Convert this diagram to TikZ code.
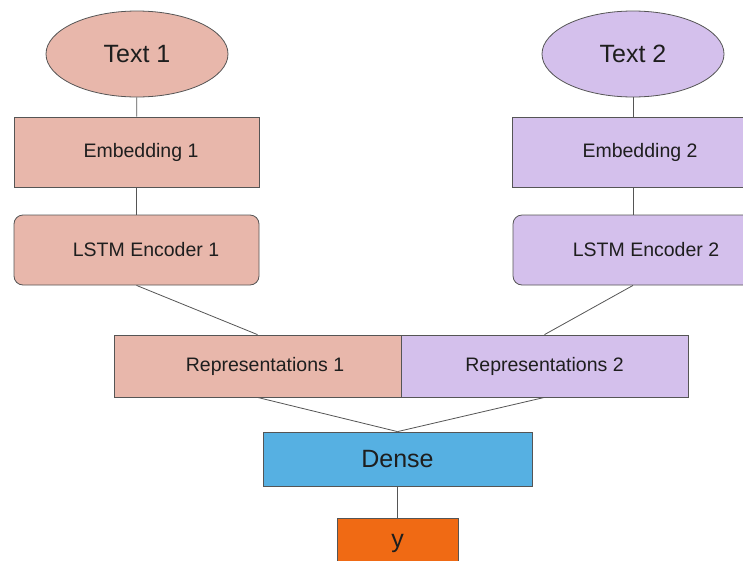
\documentclass[tikz,border=0pt]{standalone}
\usepackage{fontspec}
\setmainfont{Liberation Sans}
\usetikzlibrary{shapes.geometric}
\definecolor{salmon}{HTML}{E8B7AB}
\definecolor{lav}{HTML}{D4C0EC}
\definecolor{denseblue}{HTML}{56B0E2}
\definecolor{yorange}{HTML}{F06A14}
\definecolor{edge}{HTML}{555555}
\definecolor{txt}{HTML}{1E1E1E}
\begin{document}
\begin{tikzpicture}[x=1pt,y=-1pt,
  base/.style={draw=edge,line width=0.8pt,inner sep=0pt,text=txt},
  oval/.style={base,ellipse,minimum width=182pt,minimum height=86pt,font=\fontsize{25}{28}\selectfont},
  boxs/.style={base,rectangle,minimum height=70pt,font=\fontsize{19.5}{22}\selectfont},
  rbox/.style={boxs,rounded corners=9pt},
  repbox/.style={base,rectangle,minimum width=287pt,minimum height=62pt,font=\fontsize{19.5}{22}\selectfont},
  conn/.style={draw=edge,line width=0.8pt}]
\useasboundingbox (0,0) rectangle (743,560);
\clip (0,0) rectangle (743,560);
\fill[white] (0,0) rectangle (743,560);
\node[oval,fill=salmon] (t1) at (137,54) {Text 1};
\node[oval,fill=lav] (t2) at (633,54) {Text 2};
\node[boxs,fill=salmon,minimum width=245pt] (e1) at (136.5,152) {\hspace*{9pt}Embedding 1};
\node[boxs,fill=lav,minimum width=242pt] (e2) at (633,152) {\hspace*{14pt}Embedding 2};
\node[rbox,fill=salmon,minimum width=245pt] (l1) at (136.5,250) {\hspace*{19pt}LSTM Encoder 1};
\node[rbox,fill=lav,minimum width=240pt] (l2) at (633,250) {\hspace*{26pt}LSTM Encoder 2};
\node[repbox,fill=salmon] (r1) at (257.5,366) {\hspace*{15pt}Representations 1};
\node[repbox,fill=lav] (r2) at (544.5,366) {Representations 2};
\node[base,fill=denseblue,minimum width=269pt,minimum height=54pt,font=\fontsize{25}{28}\selectfont] (d) at (397.5,459) {Dense};
\node[base,fill=yorange,minimum width=121pt,minimum height=50pt,font=\fontsize{25}{28}\selectfont] (y) at (397.5,543) {y};
\draw[conn] (t1) -- (e1);
\draw[conn] (e1) -- (l1);
\draw[conn] (t2) -- (e2);
\draw[conn] (e2) -- (l2);
\draw[conn] (l1.south) -- (r1.north);
\draw[conn] (l2.south) -- (r2.north);
\draw[conn] (r1.south) -- (d.north);
\draw[conn] (r2.south) -- (d.north);
\draw[conn] (d) -- (y);
\end{tikzpicture}
\end{document}
